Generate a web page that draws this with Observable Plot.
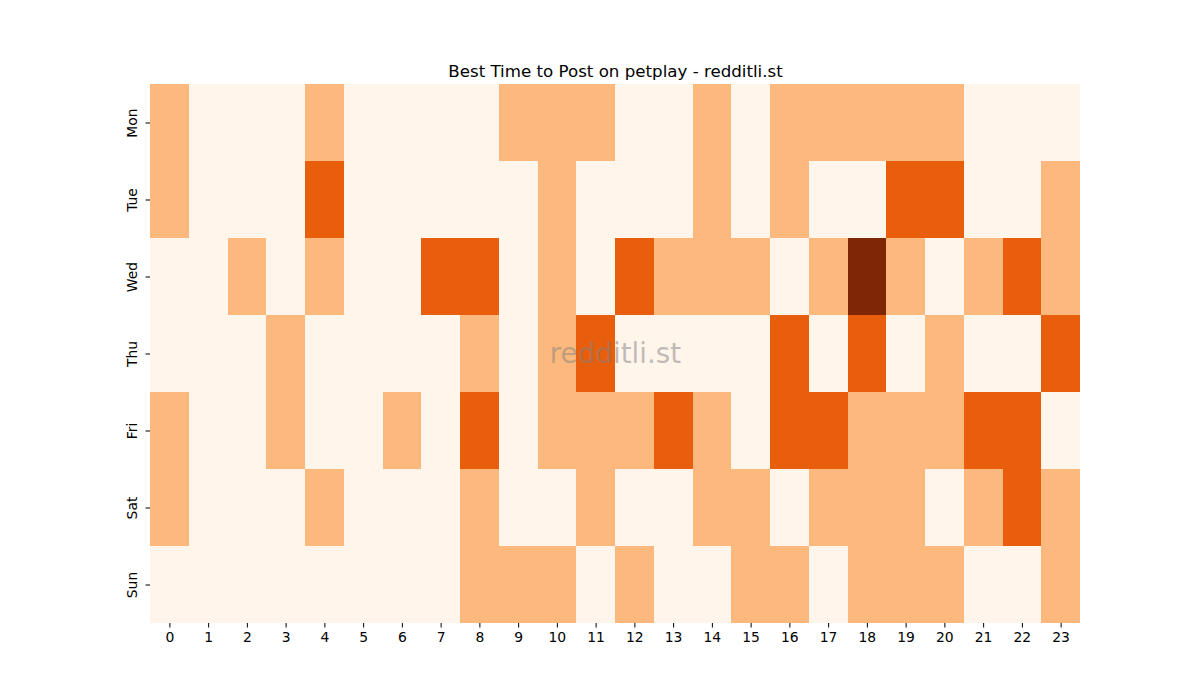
<!DOCTYPE html>
<html><head><meta charset="utf-8">
<script src="https://cdn.jsdelivr.net/npm/d3@7"></script>
<script src="https://cdn.jsdelivr.net/npm/@observablehq/plot@0.6"></script>
<style>
body{margin:0;background:#fff;}
#chart svg{display:block;}
</style>
</head><body><div id="chart"></div>
<script>
const days = ["Mon", "Tue", "Wed", "Thu", "Fri", "Sat", "Sun"];
const hours = [0, 1, 2, 3, 4, 5, 6, 7, 8, 9, 10, 11, 12, 13, 14, 15, 16, 17, 18, 19, 20, 21, 22, 23];
// activity level per hour (0 = low ... 3 = high)
const mon = [1,0,0,0,1,0,0,0,0,1,1,1,0,0,1,0,1,1,1,1,1,0,0,0];
const tue = [1,0,0,0,2,0,0,0,0,0,1,0,0,0,1,0,1,0,0,2,2,0,0,1];
const wed = [0,0,1,0,1,0,0,2,2,0,1,0,2,1,1,1,0,1,3,1,0,1,2,1];
const thu = [0,0,0,1,0,0,0,0,1,0,1,2,0,0,0,0,2,0,2,0,1,0,0,2];
const fri = [1,0,0,1,0,0,1,0,2,0,1,1,1,2,1,0,2,2,1,1,1,2,2,0];
const sat = [1,0,0,0,1,0,0,0,1,0,0,1,0,0,1,1,0,1,1,1,0,1,2,1];
const sun = [0,0,0,0,0,0,0,0,1,1,1,0,1,0,0,1,1,0,1,1,1,0,0,1];
const levels = [0, 1, 2, 3];
const levelColors = ["#fff5eb", "#fdb97d", "#e95e0d", "#7f2704"];
const title = "Best Time to Post on petplay - redditli.st";
const watermark = "redditli.st";

const rows = [mon, tue, wed, thu, fri, sat, sun];
const data = [];
rows.forEach((row, i) => row.forEach((v, j) => data.push({day: days[i], hour: hours[j], level: v})));

const font = "'DejaVu Sans', sans-serif";
const chart = Plot.plot({
  width: 1200,
  height: 700,
  marginLeft: 150,
  marginRight: 120,
  marginTop: 84,
  marginBottom: 77,
  style: {fontFamily: font, color: "#000", background: "#fff", overflow: "visible"},
  x: {type: "band", domain: hours, padding: 0, round: false, axis: null},
  y: {type: "band", domain: days, padding: 0, round: false, axis: null},
  color: {type: "ordinal", domain: levels, range: levelColors},
  marks: [
    Plot.cell(data, {x: "hour", y: "day", fill: "level", inset: 0, shapeRendering: "crispEdges"}),
    Plot.axisX({anchor: "bottom", tickSize: 4.5, tickPadding: 4, fontSize: 13.9, label: null, stroke: "#000"}),
    Plot.axisY({anchor: "left", tickSize: 4.5, tickPadding: 9, fontSize: 13.9, label: null, tickRotate: -90, stroke: "#000"}),
    Plot.text([watermark], {frameAnchor: "middle", fontSize: 27.8, fill: "#808080", fillOpacity: 0.5}),
    Plot.text([title], {frameAnchor: "top", dy: -19, fontSize: 16.67, fill: "#000"})
  ]
});
document.getElementById("chart").appendChild(chart);
</script>
</body></html>
